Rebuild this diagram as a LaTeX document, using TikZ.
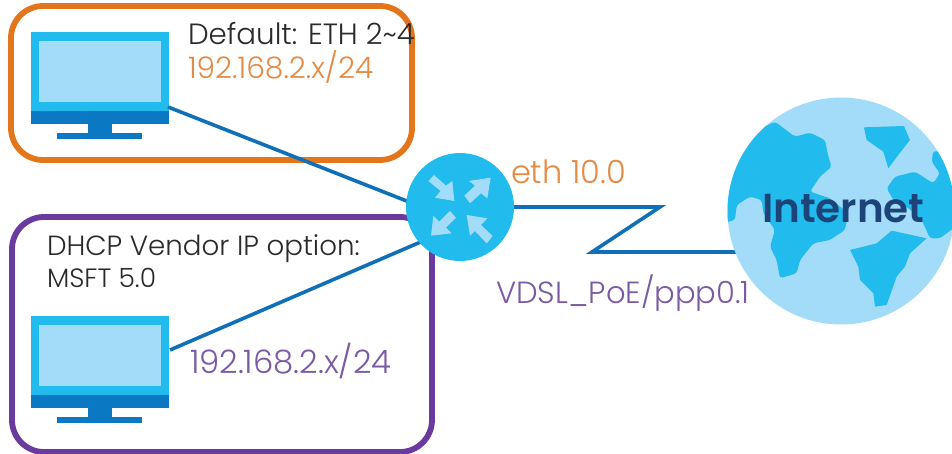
\documentclass[tikz,border=0pt]{standalone}
\usepackage{fontspec}
\setmainfont{Poppins}[UprightFont=* Light,BoldFont=* SemiBold]
\definecolor{lineblue}{HTML}{0F6FB8}
\definecolor{midblue}{HTML}{22BBEE}
\definecolor{paleblue}{HTML}{A3DCF8}
\definecolor{darkband}{HTML}{0A78C2}
\definecolor{orangeC}{HTML}{E3761B}
\definecolor{purpleC}{HTML}{6B3A9E}
\definecolor{orangeT}{HTML}{E58A45}
\definecolor{purpleT}{HTML}{7A5AA2}
\definecolor{navyC}{HTML}{1C4478}
\definecolor{textC}{HTML}{2A2A2A}
\newcommand{\fs}[1]{\fontsize{#1}{#1}\selectfont}
\tikzset{
  link/.style={draw=lineblue,line width=3.6pt,line join=miter},
  groupbox/.style={line width=5.8pt,rounded corners=32pt},
  label/.style={anchor=base west,inner sep=0pt,outer sep=0pt},
  txt/.style={label,text=textC},
}
\begin{document}
\begin{tikzpicture}[x=1pt,y=-1pt]
\useasboundingbox (0,0) rectangle (952,454);
\clip (0,0) rectangle (952,454);
\fill[white] (0,0) rectangle (952,454);
% group boxes
\draw[groupbox,draw=orangeC] (11,6) rectangle (412,160);
\draw[groupbox,draw=purpleC] (12,217) rectangle (432,452);
% monitors
\foreach \dy in {0,284}{
  \begin{scope}[yshift=-\dy pt]
    \fill[midblue] (31,32) rectangle (169,111);
    \fill[paleblue] (39,41) rectangle (161,102);
    \fill[darkband] (31,111) rectangle (169,124);
    \fill[darkband] (88,124) rectangle (112,133);
    \fill[darkband] (57,133) rectangle (142,139);
  \end{scope}
}
\coordinate (pcA) at (168,107);
\coordinate (pcB) at (170,350);
\coordinate (hubA) at (460,222);
\coordinate (hubB) at (460,225);
\coordinate (z1) at (660,204);
\coordinate (z2) at (592,252);
\coordinate (wan) at (737,252);
\node[circle,minimum size=108pt,inner sep=0pt,outer sep=0pt] (router) at (460,207) {};
\draw[link] (pcA) -- (hubA);
\draw[link] (pcB) -- (hubB);
\draw[link] (router.center) -- (router.center -| z1) -- (z2) -- (wan);
\fill[midblue] (router.center) circle (54);
\begin{scope}[shift={(420,165)},x=0.3333pt,y=-0.3333pt]
  \fill[paleblue] (103,108)--(45,98)--(62,78)--(25,48)--(42,30)--(78,62)--(97,48)--cycle;
  \fill[paleblue] (212,38)--(202,100)--(183,85)--(150,115)--(133,92)--(165,62)--(147,48)--cycle;
  \fill[paleblue] (33,212)--(40,152)--(58,170)--(90,138)--(108,158)--(78,188)--(95,205)--cycle;
  \fill[paleblue] (140,150)--(202,160)--(183,180)--(218,213)--(200,235)--(165,198)--(150,212)--cycle;
\end{scope}
% globe
\node[circle,minimum size=227pt,inner sep=0pt,outer sep=0pt,fill=paleblue] (globe) at (841,211) {};
\begin{scope}
  \clip (841,211) circle (113.5);
  \begin{scope}[shift={(720,90)},x=0.3333pt,y=-0.3333pt]
    \fill[midblue,rounded corners=3pt] (165,95)--(225,140)--(270,128)--(315,150)--(325,200)--(335,230)--(300,260)--(270,305)--(330,325)--(385,370)--(375,420)--(330,450)--(280,460)--(240,510)--(230,550)--(180,565)--(170,510)--(150,470)--(165,420)--(130,370)--(125,330)--(90,320)--(50,345)--(45,390)--(15,398)--(10,300)--(50,150)--cycle;
    \fill[midblue] (432,112)--(552,108)--(570,150)--(535,195)--(505,235)--(490,185)--(440,150)--cycle;
    \fill[midblue,rounded corners=3pt] (640,182)--(720,200)--(720,400)--(660,445)--(630,445)--(605,390)--(560,350)--(520,330)--(500,295)--(525,260)--(585,245)--(640,280)--(660,250)--(635,215)--cycle;
    \fill[midblue] (515,422)--(620,445)--(570,490)--(555,530)--(530,560)--(500,645)--(465,650)--(460,610)--(420,570)--(415,530)--(390,480)--(470,460)--cycle;
  \end{scope}
\end{scope}
% labels
\node[txt,font=\fs{29.3}] (t1) at (188,45) {Default: ETH 2\textasciitilde 4};
\node[txt,text=orangeT,font=\fs{29.7}] (t2) at (188,79) {192.168.2.x/24};
\node[txt,font=\fs{27.7}] (t3) at (47,255) {DHCP Vendor IP option:};
\node[txt,font=\fs{26.5}] (t4) at (47,287) {MSFT 5.0};
\node[txt,text=purpleT,font=\fs{32.3}] (t5) at (190,373) {192.168.2.x/24};
\node[txt,text=orangeT,font=\fs{32}] (t6) at (511,184) {eth 10.0};
\node[txt,text=purpleT,font=\fs{30.6}] (t7) at (496,303) {VDSL\_PoE/ppp0.1};
\node[label,font=\fs{40.5}\bfseries,text=navyC] (t8) at (762,223) {Internet};
\end{tikzpicture}
\end{document}
